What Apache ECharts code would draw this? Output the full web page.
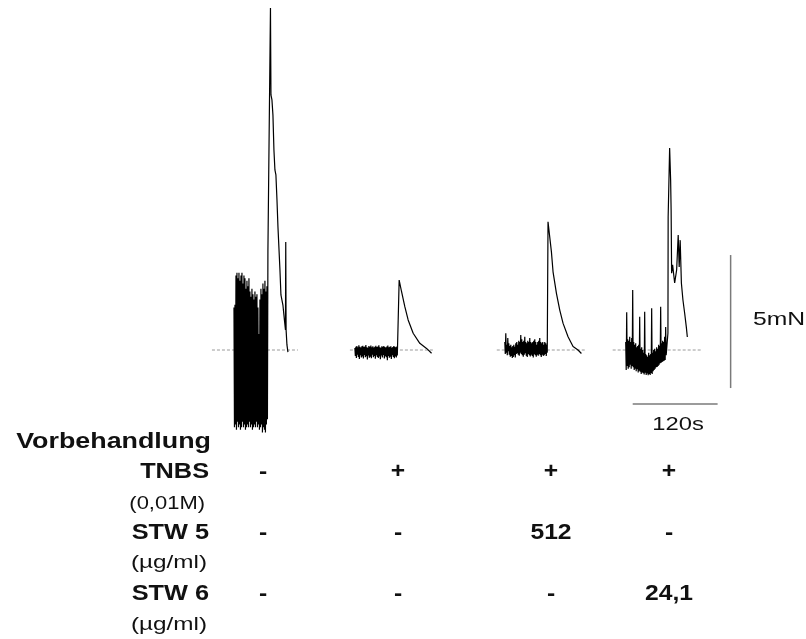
<!DOCTYPE html>
<html>
<head>
<meta charset="utf-8">
<script src="https://cdn.jsdelivr.net/npm/echarts@6/dist/echarts.min.js"></script>
<style>
  html, body { margin: 0; padding: 0; background: #fff; }
  #chart { width: 806px; height: 639px; }
</style>
</head>
<body>
<div id="chart"></div>
<script>
// time between two noise samples (s)
const sampleDt = 0.706

// trace 1: no pretreatment
const trace1Start = 48.0
const trace1Hi = [1.6, 1.7, 2.8, 2.9, 2.7, 2.9, 2.6, 2.8, 2.9, 2.5, 2.8, 2.7, 2.3, 2.6, 2.4, 2.7, 2.2, 2.0, 2.3, 2.1, 1.9, 2.2, 2.0, 2.1, 1.6, 0.6, 1.9, 2.3, 2.1, 2.5, 2.3, 2.6, 2.2, 2.4]
const trace1Lo = [-2.9, -2.8, -3.0, -2.7, -2.9, -2.8, -3.0, -2.9, -2.7, -2.9, -2.8, -3.0, -2.9, -2.8, -2.9, -2.7, -2.9, -2.8, -3.0, -2.9, -2.8, -2.9, -2.7, -2.9, -2.8, -3.0, -2.9, -2.8, -3.1, -2.9, -3.0, -3.1, -2.8, -2.6]
const trace1Resp = [[96.0, 3.76], [99.6, 12.86], [100.3, 9.59], [101.7, 9.40], [103.1, 8.83], [104.5, 7.52], [105.9, 6.77], [107.3, 6.58], [108.8, 5.64], [110.2, 4.62], [113.0, 3.01], [114.4, 2.07], [117.2, 1.69], [119.3, 1.13], [120.8, 0.75], [121.2, 4.06], [121.7, 0.75], [122.9, 0.19], [124.3, -0.08]]

// trace 2: TNBS
const trace2Start = 218.9
const trace2Hi = [0.08, 0.12, 0.15, 0.10, 0.18, 0.12, 0.09, 0.14, 0.16, 0.11, 0.13, 0.19, 0.10, 0.08, 0.15, 0.12, 0.17, 0.10, 0.14, 0.09, 0.12, 0.16, 0.11, 0.13, 0.18, 0.10, 0.08, 0.14, 0.12, 0.15, 0.11, 0.09, 0.13, 0.17, 0.10, 0.12, 0.14, 0.08, 0.11, 0.15, 0.12, 0.10, 0.13]
const trace2Lo = [-0.22, -0.30, -0.18, -0.26, -0.34, -0.20, -0.28, -0.24, -0.32, -0.19, -0.27, -0.23, -0.36, -0.21, -0.29, -0.25, -0.31, -0.18, -0.27, -0.22, -0.33, -0.20, -0.26, -0.30, -0.24, -0.35, -0.21, -0.28, -0.19, -0.32, -0.23, -0.27, -0.38, -0.22, -0.29, -0.25, -0.34, -0.20, -0.26, -0.31, -0.24, -0.28, -0.21]
const trace2Resp = [[281.5, 2.63], [284.9, 2.19], [289.5, 1.63], [294.2, 1.13], [301.3, 0.63], [310.7, 0.25], [320.2, 0.06], [327.3, -0.12]]

// trace 3: TNBS + STW 5
const trace3Start = 430.8
const trace3Hi = [0.3, 0.63, 0.2, 0.45, 0.25, 0.15, 0.2, 0.1, 0.15, 0.2, 0.12, 0.25, 0.3, 0.2, 0.35, 0.3, 0.56, 0.4, 0.3, 0.35, 0.5, 0.3, 0.25, 0.35, 0.3, 0.45, 0.3, 0.25, 0.3, 0.35, 0.4, 0.3, 0.2, 0.3, 0.35, 0.45, 0.3, 0.25, 0.3, 0.2, 0.3, 0.25, 0.2]
const trace3Lo = [-0.15, -0.10, -0.20, -0.05, -0.18, -0.25, -0.22, -0.30, -0.26, -0.20, -0.28, -0.15, -0.12, -0.18, -0.22, -0.10, -0.15, -0.20, -0.25, -0.18, -0.12, -0.22, -0.26, -0.15, -0.20, -0.24, -0.18, -0.22, -0.28, -0.16, -0.20, -0.25, -0.18, -0.22, -0.15, -0.20, -0.26, -0.18, -0.22, -0.20, -0.15, -0.22, -0.10]
const trace3Resp = [[491.9, 4.82], [494.3, 4.82], [496.7, 3.69], [499.0, 2.94], [503.8, 2.13], [508.5, 1.50], [513.2, 1.00], [520.2, 0.50], [527.3, 0.13], [534.3, 0.00], [539.1, -0.13]]

// trace 4: TNBS + STW 6
const trace4Start = 601.7
const trace4Hi = [0.3, 1.42, 0.4, 0.35, 0.5, 0.3, 0.45, 2.26, 0.3, 0.2, 0.25, 0.1, 0.15, 0.2, 1.25, 0.05, 0.1, 0.0, -0.1, 1.44, -0.15, -0.2, -0.25, -0.1, -0.2, -0.15, 1.57, -0.1, 0.0, 0.05, -0.05, 0.1, 0.05, 0.2, 0.15, 1.63, 0.25, 0.35, 0.3, 0.5, 0.86]
const trace4Lo = [-0.75, -0.6, -0.7, -0.65, -0.55, -0.7, -0.6, -0.65, -0.75, -0.7, -0.8, -0.72, -0.85, -0.78, -0.82, -0.9, -0.85, -0.87, -0.92, -0.85, -0.94, -0.88, -0.95, -0.9, -0.94, -0.86, -0.9, -0.8, -0.75, -0.7, -0.65, -0.64, -0.6, -0.55, -0.5, -0.48, -0.45, -0.42, -0.4, -0.38, -0.2]
const trace4Resp = [[661.4, 0.64], [661.7, 5.0], [663.8, 7.59], [665.2, 6.39], [665.9, 5.26], [666.6, 2.89], [668.0, 3.20], [670.9, 2.52], [673.7, 3.01], [675.9, 4.32], [677.3, 3.12], [678.7, 4.13], [680.4, 2.52], [682.6, 1.88], [685.0, 1.39], [687.4, 0.86], [688.8, 0.49]]

// dashed zero lines [from, to] in s
const baselines = [[16.9, 138.4], [211.9, 329.1], [419.5, 543.8], [583.3, 709.0]]

// scale bars
const barForce = 5      // mN
const barTime = 120     // s
const barForceAt = [750, -1.43]
const barTimeAt = [611.6, -2.03]

// table below the traces
const rowLabels = ['TNBS', 'STW 5', 'STW 6']
const rowUnits = ['(0,01M)', '(\u00b5g/ml)', '(\u00b5g/ml)']
const rowTNBS = ['-', '+', '+', '+']
const rowSTW5 = ['-', '-', '512', '-']
const rowSTW6 = ['-', '-', '-', '24,1']

function buildTrace(start, hi, lo, resp) {
  let data = []
  for (let i = 0; i < hi.length; i++) {
    data.push([start + 2 * i * sampleDt, hi[i]])
    data.push([start + (2 * i + 1) * sampleDt, lo[i]])
  }
  return data.concat(resp)
}

const traces = [
  buildTrace(trace1Start, trace1Hi, trace1Lo, trace1Resp),
  buildTrace(trace2Start, trace2Hi, trace2Lo, trace2Resp),
  buildTrace(trace3Start, trace3Hi, trace3Lo, trace3Resp),
  buildTrace(trace4Start, trace4Hi, trace4Lo, trace4Resp)
]

const chart = echarts.init(document.getElementById('chart'))

let series = []
baselines.forEach(b => {
  series.push({
    type: 'line',
    data: [[b[0], 0], [b[1], 0]],
    symbol: 'none',
    z: 1,
    lineStyle: { color: '#9a9a9a', width: 1, type: [3, 2] }
  })
})
traces.forEach(d => {
  series.push({
    type: 'line',
    data: d,
    symbol: 'none',
    z: 3,
    clip: false,
    lineStyle: { color: '#000', width: 1.2 }
  })
})
series.push({
  type: 'line',
  data: [barForceAt, [barForceAt[0], barForceAt[1] + barForce]],
  symbol: 'none',
  clip: false,
  lineStyle: { color: '#7a7a7a', width: 1.5 }
})
series.push({
  type: 'line',
  data: [barTimeAt, [barTimeAt[0] + barTime, barTimeAt[1]]],
  symbol: 'none',
  clip: false,
  lineStyle: { color: '#7a7a7a', width: 1.5 }
})

const bold = 'bold 22px "Liberation Sans", Arial, sans-serif'
const plain = '18px "Liberation Sans", Arial, sans-serif'
function txt(text, x, y, font, align, sx) {
  return {
    type: 'text', x: x, y: y, scaleX: sx, silent: true,
    style: { text: text, font: font, fill: '#111', align: align, verticalAlign: 'middle',
             textAlign: align, textVerticalAlign: 'middle' }
  }
}

const colX = [263, 398, 551, 669]
const rowY = [472, 533, 594]
const unitY = [504, 563, 625]
let graphics = [txt('Vorbehandlung', 211, 442, bold, 'right', 1.22)]
rowLabels.forEach((l, i) => {
  graphics.push(txt(l, 209, rowY[i], bold, 'right', 1.15))
  graphics.push(txt(rowUnits[i], i === 0 ? 205 : 207, unitY[i], plain, 'right', i === 0 ? 1.22 : 1.35))
})
;[rowTNBS, rowSTW5, rowSTW6].forEach((row, i) => {
  row.forEach((v, j) => {
    graphics.push(txt(v, colX[j], rowY[i], bold, 'center', 1.12))
  })
})
graphics.push(txt('5mN', 753, 320, '19px "Liberation Sans", Arial, sans-serif', 'left', 1.3))
graphics.push(txt('120s', 678, 425, '19px "Liberation Sans", Arial, sans-serif', 'center', 1.25))

const option = {
  animation: false,
  backgroundColor: '#fff',
  grid: { left: 200, top: 4.2, width: 566, height: 438.9 },
  xAxis: { type: 'value', min: 0, max: 800, show: false },
  yAxis: { type: 'value', min: -3.5, max: 13, show: false },
  series: series,
  graphic: graphics
}
chart.setOption(option)
</script>
</body>
</html>
